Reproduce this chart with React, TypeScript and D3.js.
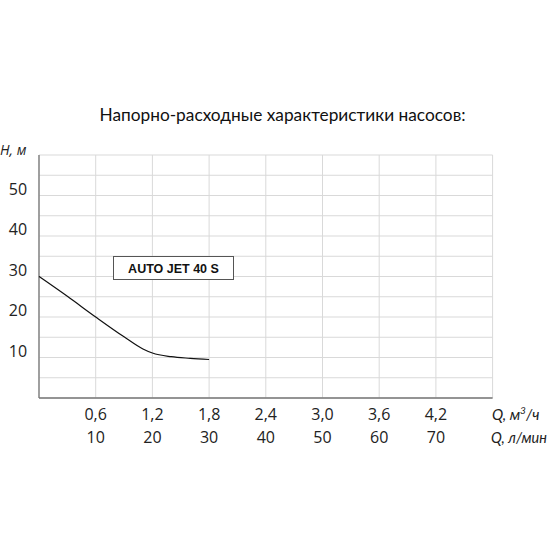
import React from "react";
import * as d3 from "d3";

const title = "Напорно-расходные характеристики насосов:";
const seriesName = "AUTO JET 40 S";
const qM3h = [0, 0.3, 0.6, 0.9, 1.1, 1.2, 1.4, 1.6, 1.8];
const headM = [30, 25.1, 20, 15.1, 12.1, 11.1, 10.2, 9.8, 9.5];
const xTicksM3 = [0.6, 1.2, 1.8, 2.4, 3.0, 3.6, 4.2];
const xTicksLmin = [10, 20, 30, 40, 50, 60, 70];
const yTickLabels = [10, 20, 30, 40, 50];

const W = 550, H = 550;
const left = 39, right = 492.6, top = 155, bottom = 398;

export default function App() {
  const x = d3.scaleLinear().domain([0, 4.8]).range([left, right]);
  const y = d3.scaleLinear().domain([0, 60]).range([bottom, top]);
  const gridX = d3.range(0, 4.8 + 1e-9, 0.6);
  const gridY = d3.range(0, 60 + 1e-9, 5);
  const line = d3
    .line<number>()
    .x((_, i) => x(qM3h[i]))
    .y((d) => y(d))
    .curve(d3.curveMonotoneX);
  const font = "'Open Sans', 'Noto Sans', sans-serif";
  const titleFont = "Lato, 'Open Sans', sans-serif";
  return (
    <svg width={W} height={H} style={{ position: "absolute", left: 0, top: 0 }}>
      <rect width={W} height={H} fill="#fff" />
      <text x={282.5} y={121} textAnchor="middle" fontFamily={titleFont} fontSize={17.3} fill="#111">
        {title}
      </text>
      {gridY.map((v) => (
        <line key={"gy" + v} x1={left} x2={right} y1={y(v)} y2={y(v)} stroke="#d9d9d9" strokeWidth={1} />
      ))}
      {gridX.map((v) => (
        <line key={"gx" + v} x1={x(v)} x2={x(v)} y1={top} y2={bottom} stroke="#d9d9d9" strokeWidth={1} />
      ))}
      <line x1={left} x2={left} y1={top} y2={bottom} stroke="#777" strokeWidth={1.3} />
      <line x1={left} x2={right} y1={bottom} y2={bottom} stroke="#777" strokeWidth={1.3} />
      {yTickLabels.map((v) => (
        <text key={"yl" + v} x={18} y={y(v) - 1} textAnchor="middle" fontFamily={font} fontSize={16} fill="#222">
          {v}
        </text>
      ))}
      <text x={0} y={155} fontFamily={font} fontStyle="italic" fontSize={14} fill="#222">
        Н, м
      </text>
      {xTicksM3.map((v) => (
        <text key={"xm" + v} x={x(v)} y={420} textAnchor="middle" fontFamily={font} fontSize={16} fill="#222">
          {v.toFixed(1).replace(".", ",")}
        </text>
      ))}
      {xTicksLmin.map((v, i) => (
        <text key={"xl" + v} x={x(xTicksM3[i])} y={443} textAnchor="middle" fontFamily={font} fontSize={16} fill="#222">
          {v}
        </text>
      ))}
      <text x={492} y={420} fontFamily={titleFont} fontStyle="italic" fontSize={15} fill="#222">
        Q, м<tspan dy={-6} fontSize={10}>3</tspan><tspan dy={6}>/ч</tspan>
      </text>
      <text x={491} y={443} fontFamily={titleFont} fontStyle="italic" fontSize={14.5} fill="#222">
        Q, л/мин
      </text>
      <path d={line(headM) || ""} fill="none" stroke="#111" strokeWidth={1.2} />
      <rect x={113.5} y={256.5} width={120} height={23} fill="#fff" stroke="#555" strokeWidth={1} />
      <text x={173.5} y={273} textAnchor="middle" fontFamily="'Liberation Sans', Arial, sans-serif" fontWeight="bold" fontSize={12.5} fill="#111">
        {seriesName}
      </text>
    </svg>
  );
}
